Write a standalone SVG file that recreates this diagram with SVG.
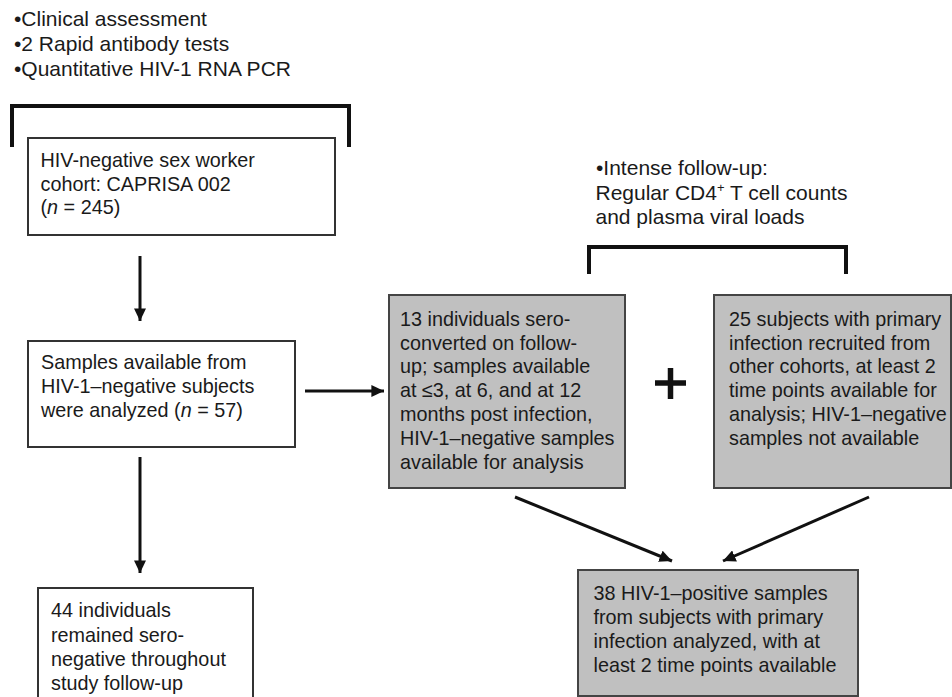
<svg xmlns="http://www.w3.org/2000/svg" width="952" height="697" viewBox="0 0 952 697">
<style>
text{font-family:"Liberation Sans",Arial,sans-serif;fill:#1a1a1a}
.t{font-size:19.8px}
.a{font-size:21px}
.box{fill:#fff;stroke:#333;stroke-width:2}
.gbox{fill:#c0c0c0;stroke:#444;stroke-width:2}
.br{fill:none;stroke:#111;stroke-width:4}
.ln{fill:none;stroke:#111;stroke-width:3}
</style>
<defs>
<marker id="ah" markerWidth="4.2" markerHeight="4" refX="4.2" refY="2" orient="auto" markerUnits="strokeWidth">
<path d="M0,0 L4.2,2 L0,4 Z" fill="#111"/>
</marker>
</defs>
<rect width="952" height="697" fill="#fff"/>
<g id="screening">
<text class="a" x="14" y="26">•Clinical assessment</text>
<text class="a" x="14" y="51">•2 Rapid antibody tests</text>
<text class="a" x="14" y="76">•Quantitative HIV-1 RNA PCR</text>
<path class="br" d="M12,147 V106 H349 V147"/>
</g>
<g id="followup">
<text class="a" x="596" y="175">•Intense follow-up:</text>
<text class="a" x="595.5" y="200">Regular CD4<tspan font-size="13" dy="-8">+</tspan><tspan dy="8"> T cell counts</tspan></text>
<text class="a" x="595.5" y="224">and plasma viral loads</text>
<path class="br" d="M589,274 V247 H846 V274"/>
</g>
<g id="cohort">
<rect class="box" x="28" y="138" width="307" height="97"/>
<text class="t" x="40.5" y="167">HIV-negative sex worker</text>
<text class="t" x="40.5" y="191">cohort: CAPRISA 002</text>
<text class="t" x="40.5" y="214">(<tspan font-style="italic">n</tspan> = 245)</text>
</g>
<g id="negatives">
<rect class="box" x="28" y="341" width="267" height="106"/>
<text class="t" x="41" y="369">Samples available from</text>
<text class="t" x="41" y="393">HIV-1–negative subjects</text>
<text class="t" x="41" y="417">were analyzed (<tspan font-style="italic">n</tspan> = 57)</text>
</g>
<g id="seronegative">
<rect class="box" x="38" y="588" width="215" height="115"/>
<text class="t" x="51" y="617">44 individuals</text>
<text class="t" x="51" y="642">remained sero-</text>
<text class="t" x="51" y="666">negative throughout</text>
<text class="t" x="51" y="690">study follow-up</text>
</g>
<g id="seroconverters">
<rect class="gbox" x="389" y="295" width="236" height="193"/>
<text class="t" x="400" y="326">13 individuals sero-</text>
<text class="t" x="400" y="350">converted on follow-</text>
<text class="t" x="400" y="373">up; samples available</text>
<text class="t" x="400" y="397">at ≤3, at 6, and at 12</text>
<text class="t" x="400" y="421">months post infection,</text>
<text class="t" x="400" y="445">HIV-1–negative samples</text>
<text class="t" x="400" y="469">available for analysis</text>
</g>
<g id="plus">
<path d="M655,383 H686 M670.5,368 V399" stroke="#111" stroke-width="5.5" fill="none"/>
</g>
<g id="other-cohorts">
<rect class="gbox" x="714" y="295" width="237" height="193"/>
<text class="t" x="729" y="326">25 subjects with primary</text>
<text class="t" x="729" y="350">infection recruited from</text>
<text class="t" x="729" y="373">other cohorts, at least 2</text>
<text class="t" x="729" y="397">time points available for</text>
<text class="t" x="729" y="421">analysis; HIV-1–negative</text>
<text class="t" x="729" y="445">samples not available</text>
</g>
<g id="positives">
<rect class="gbox" x="578" y="570" width="280" height="126"/>
<text class="t" x="593.5" y="600">38 HIV-1–positive samples</text>
<text class="t" x="593.5" y="624">from subjects with primary</text>
<text class="t" x="593.5" y="648">infection analyzed, with at</text>
<text class="t" x="593.5" y="672">least 2 time points available</text>
</g>
<g id="connectors">
<line class="ln" x1="140" y1="256" x2="140" y2="321" marker-end="url(#ah)"/>
<line class="ln" x1="140" y1="457" x2="140" y2="573" marker-end="url(#ah)"/>
<line class="ln" x1="305" y1="391" x2="384" y2="391" marker-end="url(#ah)"/>
<line class="ln" x1="515" y1="497" x2="672" y2="561" marker-end="url(#ah)"/>
<line class="ln" x1="869" y1="497" x2="723" y2="561" marker-end="url(#ah)"/>
</g>
</svg>
